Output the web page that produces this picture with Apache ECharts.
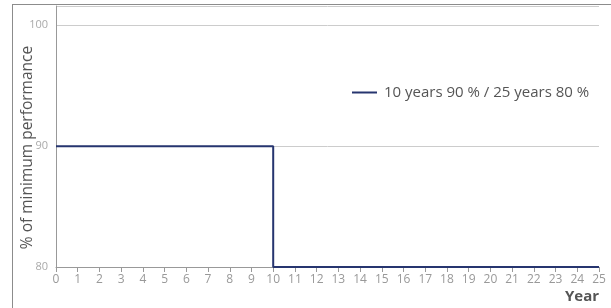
<!DOCTYPE html>
<html>
<head>
<meta charset="utf-8">
<script src="https://cdn.jsdelivr.net/npm/echarts@6/dist/echarts.min.js"></script>
<style>
  html, body { margin: 0; padding: 0; background: #fff; }
  #frame {
    position: absolute; left: 12px; top: 4px; right: 0; bottom: 0;
    border-left: 1px solid #8c8c8c; border-top: 1px solid #8c8c8c;
  }
  #chart { position: absolute; left: 0; top: 0; width: 611px; height: 308px; }
</style>
</head>
<body>
<div id="frame"></div>
<div id="chart"></div>
<script>
// step curve: guaranteed minimum performance per year
const years = [0, 10, 10, 25]
const performance = [90, 90, 80, 80]
const seriesName = '10 years 90 % / 25 years 80 %'
const yTicks = [80, 90, 100]

const chart = echarts.init(document.getElementById('chart'))

const option = {
  animation: false,
  textStyle: { fontFamily: '"Open Sans", sans-serif' },
  grid: { left: 56, right: 12, top: 6, bottom: 41 },
  legend: {
    data: [seriesName],
    left: 347,
    top: 80,
    icon: 'rect',
    itemWidth: 25,
    itemHeight: 2,
    itemGap: 8,
    textStyle: { fontSize: 15, color: '#555', padding: [0, 0, 0, 2] }
  },
  xAxis: {
    type: 'value',
    min: 0,
    max: 25,
    interval: 1,
    name: 'Year',
    nameLocation: 'end',
    nameGap: 0,
    nameTextStyle: {
      fontSize: 15, fontWeight: 'bold', color: '#555',
      align: 'right', verticalAlign: 'top', padding: [22, 0, 0, 0]
    },
    axisLine: { show: true, lineStyle: { color: '#999', width: 1 } },
    axisTick: { show: true, length: 5, inside: false, lineStyle: { color: '#999' } },
    axisLabel: { fontSize: 12, color: '#999', margin: 7 },
    splitLine: { show: false }
  },
  yAxis: {
    type: 'value',
    min: 80,
    max: 101.6,
    interval: 10,
    name: '% of minimum performance',
    nameLocation: 'middle',
    nameGap: 20,
    nameMoveOverlap: false,
    nameRotate: 90,
    nameTextStyle: { fontSize: 15.5, color: '#555', padding: [0, 22, 0, 0] },
    axisLine: { show: true, lineStyle: { color: '#999', width: 1 } },
    axisTick: { show: false },
    axisLabel: {
      fontSize: 11, color: '#aaa', margin: 8,
      formatter: v => (yTicks.includes(v) ? String(v) : '')
    },
    splitLine: {
      show: true,
      lineStyle: { color: '#ccc', width: 1 }
    }
  },
  series: [{
    name: seriesName,
    type: 'line',
    data: years.map((x, i) => [x, performance[i]]),
    symbol: 'none',
    lineStyle: { color: '#26356f', width: 2 },
    itemStyle: { color: '#26356f' }
  }]
}

chart.setOption(option)
</script>
</body>
</html>
